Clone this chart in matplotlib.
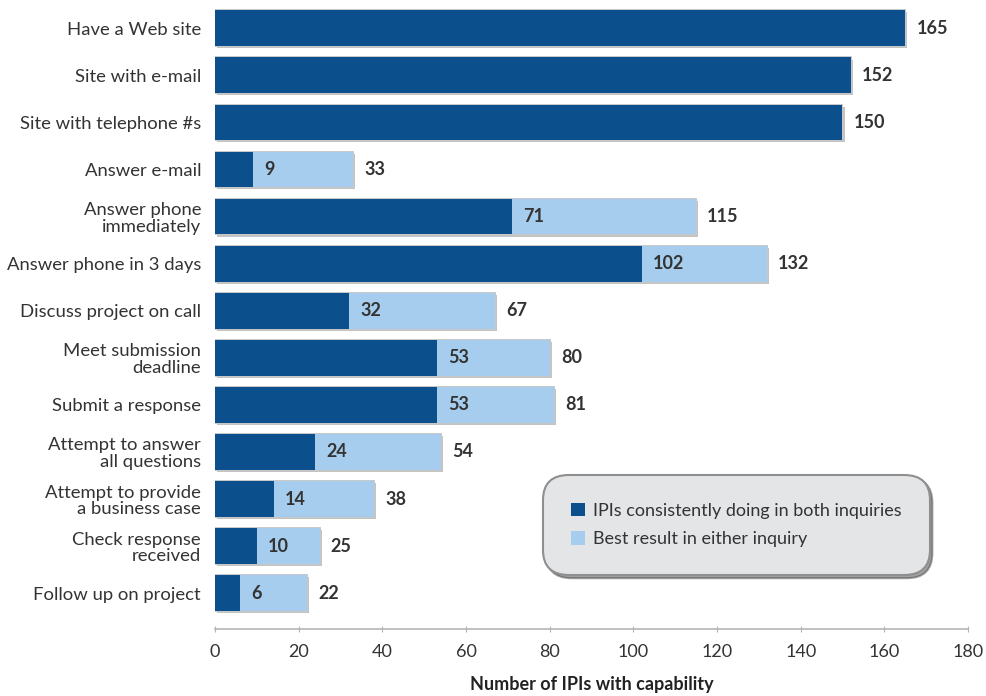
import matplotlib
matplotlib.use("Agg")
import matplotlib.pyplot as plt
import matplotlib.patheffects as pe
from matplotlib.patches import Patch
import numpy as np

categories = [
    "Have a Web site",
    "Site with e-mail",
    "Site with telephone #s",
    "Answer e-mail",
    "Answer phone\nimmediately",
    "Answer phone in 3 days",
    "Discuss project on call",
    "Meet submission\ndeadline",
    "Submit a response",
    "Attempt to answer\nall questions",
    "Attempt to provide\na business case",
    "Check response\nreceived",
    "Follow up on project",
]
consistent = [165, 152, 150, 9, 71, 102, 32, 53, 53, 24, 14, 10, 6]
best = [165, 152, 150, 33, 115, 132, 67, 80, 81, 54, 38, 25, 22]
x_ticks = [0, 20, 40, 60, 80, 100, 120, 140, 160, 180]

legend_labels = ["IPIs consistently doing in both inquiries",
                 "Best result in either inquiry"]

DARK = "#0b4f8c"
LIGHT = "#a6cdee"
TEXT = "#333333"
FS = 13

plt.rcParams["font.family"] = ["Lato", "DejaVu Sans"]

fig = plt.figure(figsize=(9.87, 6.96), dpi=100)
ax = fig.add_axes([215 / 987, 1 - 629 / 696, (968 - 215) / 987, 629 / 696])

y = np.arange(len(categories))
h = 0.76
shadow = [pe.withSimplePatchShadow(offset=(1.5, -1.5), shadow_rgbFace="#7a7a7a", alpha=0.45),
          pe.Normal()]

best_arr = np.array(best)
cons_arr = np.array(consistent)
ax.barh(y, best_arr - cons_arr, left=cons_arr, height=h, color=LIGHT,
        edgecolor="none", zorder=2)
ax.barh(y, cons_arr, height=h, color=DARK, edgecolor="none", zorder=3)

# soft drop shadow around the full length of each bar
for yi, b in zip(y, best):
    ax.barh(yi, b, height=h, color="white", edgecolor="#c8c8c8", linewidth=1.2,
            zorder=1, path_effects=shadow)

for yi, c, b in zip(y, consistent, best):
    if c < b:
        ax.annotate(str(c), (c, yi), xytext=(8, 0), textcoords="offset points",
                    ha="left", va="center", fontsize=FS, fontweight="bold",
                    color=TEXT, zorder=5)
    ax.annotate(str(b), (b, yi), xytext=(8, 0), textcoords="offset points",
                ha="left", va="center", fontsize=FS, fontweight="bold",
                color=TEXT, zorder=5)

ax.set_xlim(0, 180)
ax.set_ylim(len(categories) - 1 + 0.76, -0.6)
ax.set_yticks(y)
ax.set_yticklabels(categories, fontsize=13.3, color=TEXT, linespacing=1.05)
ax.set_xticks(x_ticks)
ax.set_xticklabels([str(t) for t in x_ticks], fontsize=FS, color=TEXT)
ax.tick_params(axis="y", length=0, pad=10)
ax.tick_params(axis="x", length=5, direction="inout", color="#b5b5b5", pad=8)

for s in ["top", "right", "left"]:
    ax.spines[s].set_visible(False)
ax.spines["bottom"].set_color("#b5b5b5")
ax.spines["bottom"].set_linewidth(1.2)

ax.set_xlabel("Number of IPIs with capability", fontsize=FS, fontweight="bold",
              color="#222222", labelpad=12)

leg = ax.legend(handles=[Patch(facecolor=DARK, label=legend_labels[0]),
                         Patch(facecolor=LIGHT, label=legend_labels[1])],
                loc="upper left", bbox_to_anchor=(0.442, 0.238),
                frameon=True, fancybox=True, shadow=True, fontsize=13,
                handlelength=0.75, handleheight=0.75, handletextpad=0.45,
                borderpad=1.3, labelspacing=0.7, borderaxespad=0)
frame = leg.get_frame()
frame.set_facecolor("#e4e5e7")
frame.set_edgecolor("#8f8f8f")
frame.set_linewidth(1.5)
frame.set_alpha(1)
frame.set_boxstyle("round,pad=0.25,rounding_size=1.4")
for t in leg.get_texts():
    t.set_color(TEXT)

fig.savefig("out.png", dpi=100, facecolor="white")
